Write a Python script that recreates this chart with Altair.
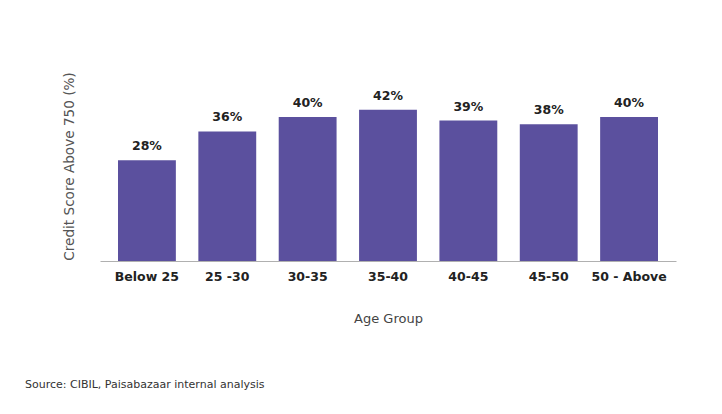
import altair as alt
import pandas as pd

groups = ["Below 25", "25 -30", "30-35", "35-40", "40-45", "45-50", "50 - Above"]
values = [28, 36, 40, 42, 39, 38, 40]
labels = ["28%", "36%", "40%", "42%", "39%", "38%", "40%"]

df = pd.DataFrame({"group": groups, "value": values, "label": labels})

x = alt.X(
    "group:N",
    sort=groups,
    scale=alt.Scale(paddingInner=0.28, paddingOuter=0.224),
    axis=alt.Axis(
        title="Age Group",
        labelAngle=0,
        ticks=False,
        tickSize=0,
        labelPadding=9,
        labelFont="DejaVu Sans",
        labelFontWeight="bold",
        labelFontSize=12.5,
        labelColor="#222222",
        domainColor="#b0b0b0",
        domainWidth=1,
        titleFont="DejaVu Sans",
        titleFontWeight="normal",
        titleFontSize=13,
        titleColor="#444444",
        titleY=57,
        titleBaseline="middle",
    ),
)

y = alt.Y(
    "value:Q",
    scale=alt.Scale(domain=[0, 50], nice=False, zero=True),
    axis=alt.Axis(
        title="Credit Score Above 750 (%)",
        labels=False,
        ticks=False,
        domain=False,
        grid=False,
        titleFont="DejaVu Sans",
        titleFontWeight="normal",
        titleFontSize=13.6,
        titleColor="#555555",
        titleX=-31,
        titleY=85,
        titleAngle=-90,
        titleBaseline="middle",
        titleAlign="center",
    ),
)

bars = alt.Chart(df).mark_bar(color="#5b509e").encode(x=x, y=y)

text = alt.Chart(df).mark_text(
    font="DejaVu Sans",
    fontWeight="bold",
    fontSize=12.5,
    color="#222222",
    baseline="bottom",
    dy=-7,
).encode(x=alt.X("group:N", sort=groups), y="value:Q", text="label:N")

chart = (
    alt.layer(bars, text)
    .properties(
        width=576,
        height=180,
        background="white",
        autosize=alt.AutoSizeParams(type="none"),
        padding={"left": 92, "top": 73, "right": 38, "bottom": 145},
        title=alt.TitleParams(
            "Source: CIBIL, Paisabazaar internal analysis",
            orient="bottom",
            anchor="start",
            frame="group",
            dx=-75,
            font="DejaVu Sans",
            fontSize=11,
            fontWeight="normal",
            color="#333333",
            offset=54,
        ),
    )
    .configure_view(strokeWidth=0, stroke=None)
)

chart.save("out.html", embed_options={"renderer": "svg", "actions": False})
